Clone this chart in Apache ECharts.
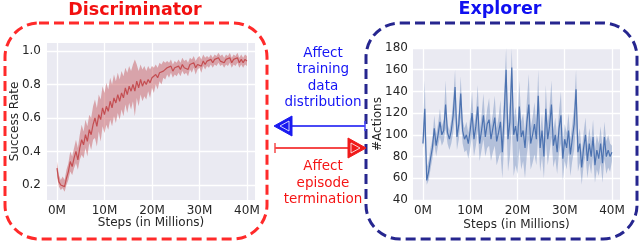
<!DOCTYPE html>
<html><head><meta charset="utf-8">
<script src="https://cdn.jsdelivr.net/npm/echarts@6/dist/echarts.min.js"></script>
<style>html,body{margin:0;padding:0;background:#fff}#c{width:640px;height:243px}</style>
</head><body><div id="c"></div>
<script>
// x sampling positions (millions of steps)
const steps = Array.from({length:101},(_,i)=>+(i*0.4).toFixed(1));
const xTicks = [0,10,20,30,40];
const xTickLabels = ['0M','10M','20M','30M','40M'];
const srTicks = [0.2,0.4,0.6,0.8,1.0];

// Discriminator: success rate
const srMean = [0.30,0.22,0.20,0.21,0.19,0.24,0.28,0.34,0.31,0.36,0.40,0.35,0.42,0.47,0.44,0.50,0.46,0.53,0.50,0.56,
0.60,0.55,0.62,0.59,0.66,0.62,0.67,0.64,0.70,0.66,0.72,0.69,0.74,0.70,0.75,0.72,0.78,0.74,0.79,0.76,
0.80,0.76,0.82,0.78,0.83,0.79,0.82,0.80,0.83,0.81,0.84,0.83,0.86,0.84,0.87,0.86,0.88,0.88,0.90,0.89,
0.91,0.88,0.90,0.89,0.91,0.89,0.92,0.90,0.91,0.89,0.92,0.91,0.93,0.90,0.92,0.93,0.91,0.94,0.92,0.94,
0.93,0.95,0.93,0.95,0.94,0.96,0.94,0.95,0.93,0.95,0.94,0.96,0.93,0.95,0.94,0.96,0.93,0.95,0.93,0.95,0.94];
const srLower = [0.25,0.19,0.17,0.18,0.16,0.20,0.23,0.28,0.26,0.30,0.33,0.29,0.35,0.38,0.36,0.42,0.37,0.45,0.41,0.47,
0.48,0.43,0.52,0.46,0.55,0.51,0.56,0.53,0.59,0.55,0.61,0.57,0.63,0.59,0.65,0.61,0.68,0.63,0.69,0.65,
0.70,0.61,0.72,0.67,0.74,0.70,0.73,0.71,0.76,0.72,0.78,0.75,0.80,0.77,0.82,0.80,0.84,0.83,0.86,0.84,
0.87,0.84,0.86,0.85,0.87,0.85,0.88,0.86,0.87,0.85,0.89,0.87,0.90,0.86,0.89,0.90,0.87,0.91,0.89,0.91,
0.90,0.92,0.90,0.92,0.91,0.93,0.91,0.92,0.90,0.92,0.91,0.93,0.90,0.92,0.91,0.93,0.90,0.92,0.90,0.92,0.91];
const srUpper = [0.34,0.26,0.23,0.25,0.23,0.29,0.33,0.40,0.37,0.42,0.47,0.42,0.50,0.56,0.52,0.59,0.55,0.62,0.60,0.67,
0.71,0.66,0.74,0.71,0.79,0.75,0.81,0.77,0.84,0.80,0.86,0.82,0.87,0.83,0.88,0.85,0.90,0.87,0.91,0.88,
0.92,0.95,0.92,0.88,0.92,0.89,0.91,0.88,0.91,0.89,0.91,0.90,0.92,0.90,0.93,0.92,0.94,0.93,0.94,0.93,
0.95,0.92,0.94,0.93,0.95,0.93,0.96,0.94,0.95,0.93,0.96,0.95,0.97,0.94,0.96,0.97,0.95,0.98,0.96,0.97,
0.96,0.98,0.96,0.98,0.97,0.99,0.97,0.98,0.96,0.98,0.97,0.99,0.96,0.98,0.97,0.99,0.96,0.98,0.96,0.98,0.97];

// Explorer: number of actions
const actMean = [92,124,58,66,78,88,106,90,100,112,100,104,128,102,96,104,118,144,98,110,
138,104,96,100,92,104,120,96,108,126,92,104,118,98,110,114,96,106,116,94,
102,112,84,120,160,96,112,162,100,108,94,126,98,104,88,112,128,92,100,110,
96,136,88,104,80,124,96,108,128,90,100,84,106,118,78,96,88,104,82,96,
110,142,84,92,70,88,100,76,92,80,98,72,86,78,92,74,98,80,86,80,84];
const actLower = [88,100,54,58,68,78,92,80,90,98,90,94,106,92,86,92,102,118,86,96,
116,92,84,86,78,88,100,80,90,104,76,86,96,80,88,90,76,84,90,72,
78,84,60,92,120,66,80,110,62,72,64,88,68,76,60,82,96,68,74,82,
72,100,66,80,60,94,72,84,98,70,78,64,84,92,58,76,68,84,62,76,
86,110,66,74,54,72,82,60,74,64,80,56,68,62,74,56,78,64,70,66,76];
const actUpper = [104,150,70,76,88,96,118,100,110,124,108,114,150,110,104,114,132,160,108,122,
154,114,106,112,102,116,140,108,120,146,104,118,138,110,124,134,108,120,136,106,
116,132,100,140,180,110,130,180,114,126,108,150,112,120,102,132,156,106,116,130,
110,160,102,120,94,146,110,126,150,104,116,98,122,140,92,110,102,120,96,110,
126,160,98,106,84,102,116,90,106,94,114,86,100,92,108,88,112,94,100,92,90];

const RED = '#C44E52', BLUE = '#4C72B0';
const pair = (arr)=>arr.map((v,i)=>[steps[i], v]);

function bandSeries(gi, lower, upper, color, opacity){
  return {type:'custom', xAxisIndex:gi, yAxisIndex:gi, silent:true, clip:true,
    data:[[steps[0], lower[0]]],
    renderItem:function(params, api){
      const pts = [];
      for (let i=0;i<steps.length;i++) pts.push(api.coord([steps[i], upper[i]]));
      for (let i=steps.length-1;i>=0;i--) pts.push(api.coord([steps[i], lower[i]]));
      return {type:'polygon', shape:{points:pts}, style:{fill:color, opacity:opacity}};
    }};
}

const font = 'DejaVu Sans';
const lblStyle = {color:'#262626', fontSize:12, fontFamily:font};
const nameStyle = {color:'#262626', fontSize:12, fontFamily:font};
function xAx(gi, gap){
  return {type:'value', gridIndex:gi, min:-2.1, max:41.7,
    name:'Steps (in Millions)', nameLocation:'middle', nameGap:gap, nameMoveOverlap:false,
    nameTextStyle:nameStyle,
    axisLine:{show:false}, axisTick:{show:false, customValues:xTicks},
    axisLabel:Object.assign({customValues:xTicks, margin:5,
      formatter:(v)=>xTickLabels[xTicks.indexOf(v)]}, lblStyle),
    splitLine:{show:true, lineStyle:{color:'#ffffff', width:1.3}}};
}
const chart = echarts.init(document.getElementById('c'), null, {renderer:'canvas'});
const option = {
  animation:false,
  grid:[
    {left:47, top:43, width:208, height:157, backgroundColor:'#EAEAF2', show:true, borderWidth:0},
    {left:413, top:48, width:207, height:152, backgroundColor:'#EAEAF2', show:true, borderWidth:0}
  ],
  xAxis:[xAx(0, 17), xAx(1, 19)],
  yAxis:[
    {type:'value', gridIndex:0, min:0.11, max:1.048,
     name:'Success Rate', nameLocation:'middle', nameGap:26, nameRotate:90, nameMoveOverlap:false,
     nameTextStyle:nameStyle,
     axisLine:{show:false}, axisTick:{show:false, customValues:srTicks},
     axisLabel:Object.assign({customValues:srTicks, margin:6, formatter:(v)=>v.toFixed(1)}, lblStyle),
     splitLine:{show:true, lineStyle:{color:'#ffffff', width:1.3}}},
    {type:'value', gridIndex:1, min:40, max:180, interval:20,
     name:'#Actions', nameLocation:'middle', nameGap:29, nameRotate:90, nameMoveOverlap:false,
     nameTextStyle:nameStyle,
     axisLine:{show:false}, axisTick:{show:false},
     axisLabel:Object.assign({margin:5}, lblStyle),
     splitLine:{show:true, lineStyle:{color:'#ffffff', width:1.3}}}
  ],
  series:[
    bandSeries(0, srLower, srUpper, RED, 0.45),
    {type:'line', xAxisIndex:0, yAxisIndex:0, data:pair(srMean), symbol:'none',
     lineStyle:{color:RED, width:1.2}},
    bandSeries(1, actLower, actUpper, BLUE, 0.35),
    {type:'line', xAxisIndex:1, yAxisIndex:1, data:pair(actMean), symbol:'none',
     lineStyle:{color:BLUE, width:1.2}}
  ],
  graphic:[
    {type:'rect', shape:{x:5, y:23, width:262, height:216, r:34}, style:{fill:null, stroke:'#FF2A2A', lineWidth:3, lineDash:[10,5]}},
    {type:'rect', shape:{x:366, y:23, width:271, height:216, r:34}, style:{fill:null, stroke:'#26268F', lineWidth:3, lineDash:[10,5]}},
    {type:'text', x:135, y:10, style:{text:'Discriminator', fill:'#F21010', font:'bold 17.5px "DejaVu Sans"', align:'center', verticalAlign:'middle'}},
    {type:'text', x:500, y:9, style:{text:'Explorer', fill:'#1010F0', font:'bold 17.5px "DejaVu Sans"', align:'center', verticalAlign:'middle'}},
    {type:'text', x:323, y:78, style:{text:'Affect\ntraining\ndata\ndistribution', fill:'#1515F5', font:'13.5px "DejaVu Sans"', align:'center', verticalAlign:'middle', lineHeight:16.3}},
    {type:'text', x:323, y:183, style:{text:'Affect\nepisode\ntermination', fill:'#F51515', font:'13.5px "DejaVu Sans"', align:'center', verticalAlign:'middle', lineHeight:16.3}},
    {type:'line', shape:{x1:288, y1:126, x2:365, y2:126}, style:{stroke:'#4A4AF5', lineWidth:2}},
    {type:'line', shape:{x1:365, y1:121, x2:365, y2:131}, style:{stroke:'#4A4AF5', lineWidth:1.5}},
    {type:'polygon', shape:{points:[[274,126],[292,116],[292,136]]}, style:{fill:'#1A1AF0', stroke:'#1A1AF0', lineWidth:1}},
    {type:'polyline', shape:{points:[[280,126],[289,121],[289,131],[280,126]]}, style:{fill:null, stroke:'#ffffff', lineWidth:0.8}},
    {type:'line', shape:{x1:275, y1:148, x2:352, y2:148}, style:{stroke:'#F54A4A', lineWidth:2}},
    {type:'line', shape:{x1:275, y1:143, x2:275, y2:153}, style:{stroke:'#F54A4A', lineWidth:1.5}},
    {type:'polygon', shape:{points:[[366,148],[348,138],[348,158]]}, style:{fill:'#F01A1A', stroke:'#F01A1A', lineWidth:1}},
    {type:'polyline', shape:{points:[[360,148],[351,143],[351,153],[360,148]]}, style:{fill:null, stroke:'#ffffff', lineWidth:0.8}}
  ]
};
chart.setOption(option);
</script></body></html>
